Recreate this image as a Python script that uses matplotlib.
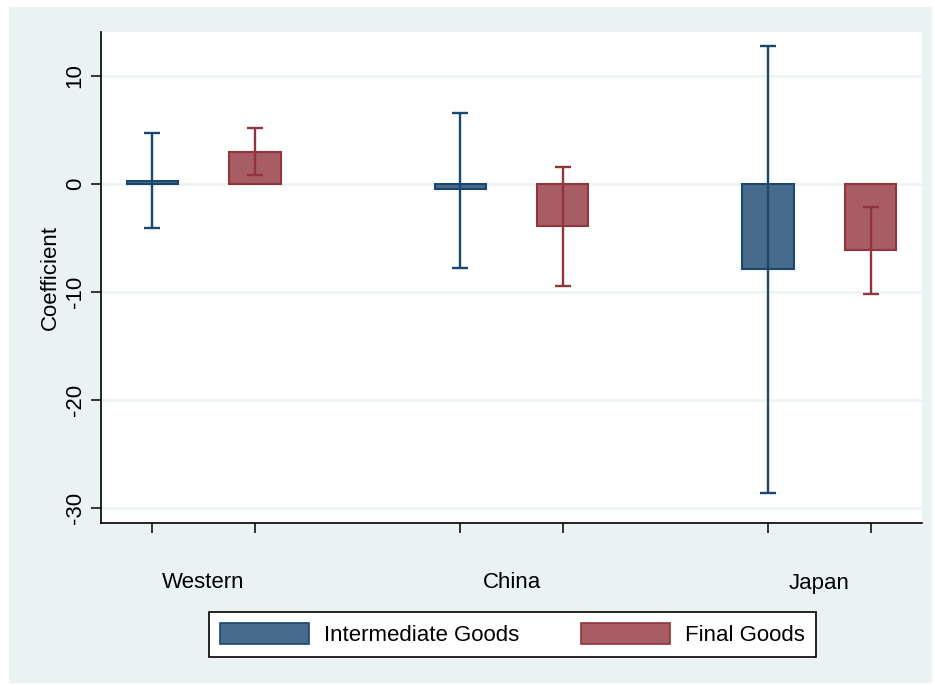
import matplotlib
matplotlib.use("Agg")
import matplotlib.pyplot as plt
from matplotlib.patches import Rectangle, Patch
from matplotlib.transforms import blended_transform_factory
import numpy as np

plt.rcParams['font.family'] = ['Liberation Sans', 'DejaVu Sans']

groups = ["Western", "China", "Japan"]
series = ["Intermediate Goods", "Final Goods"]
inter_coef = [0.3, -0.5, -7.9]
inter_low = [-4.05, -7.75, -28.6]
inter_high = [4.7, 6.6, 12.8]
final_coef = [2.95, -3.9, -6.1]
final_low = [0.8, -9.45, -10.2]
final_high = [5.2, 1.6, -2.15]
yticks = [-30, -20, -10, 0, 10]

fill_colors = ["#486a8b", "#a75d63"]
edge_colors = ["#1a476f", "#90353b"]
bg = "#eaf2f3"
FS = 16

fig = plt.figure(figsize=(9.35, 6.85), dpi=100)
fig.patch.set_facecolor("white")
fig.add_artist(Rectangle((9/935, 2/685), (932-9)/935, (678-2)/685,
                         transform=fig.transFigure, facecolor=bg,
                         edgecolor="none", zorder=-10))

ax = fig.add_axes([101/935, 1-523/685, (922-101)/935, (523-32)/685])
ax.set_facecolor("white")

pos_inter = np.array([1, 4, 7])
pos_final = pos_inter + 1

data = [(inter_coef, inter_low, inter_high), (final_coef, final_low, final_high)]
for i, (pos, (c, lo, hi)) in enumerate(zip([pos_inter, pos_final], data)):
    c = np.array(c); lo = np.array(lo); hi = np.array(hi)
    ax.bar(pos, c, width=0.5, color=fill_colors[i], edgecolor=edge_colors[i],
           linewidth=1.5, zorder=3)
    ax.errorbar(pos, c, yerr=[c - lo, hi - c], fmt="none",
                ecolor=edge_colors[i], elinewidth=1.7, capsize=5.5,
                capthick=1.7, zorder=4)

ax.set_xlim(0.5, 8.5)
ax.set_ylim(-31.4, 14.07)
ax.set_yticks(yticks)
ax.set_yticklabels([str(t) for t in yticks], rotation=90, va="center", fontsize=FS)
ax.set_xticks(list(pos_inter) + list(pos_final))
ax.set_xticklabels([""] * 6)
ax.tick_params(axis="both", length=7, width=1.1, color="black")
ax.tick_params(axis="y", pad=4)
ax.grid(axis="y", color=bg, linewidth=1.8, zorder=0)
ax.set_axisbelow(True)
for s in ["top", "right"]:
    ax.spines[s].set_visible(False)
for s in ["left", "bottom"]:
    ax.spines[s].set_linewidth(1.2)
    ax.spines[s].set_color("black")

ax.set_ylabel("Coefficient", fontsize=FS, labelpad=3)

trans = blended_transform_factory(ax.transData, fig.transFigure)
for g, p in zip(groups, pos_inter + 0.5):
    ax.text(p, 1 - 583/685, g, transform=trans, ha="center", va="center",
            fontsize=FS)

handles = [Patch(facecolor=fill_colors[i], edgecolor=edge_colors[i], linewidth=1.2)
           for i in range(2)]
leg = fig.legend(handles, series, loc="center", ncol=2,
                 bbox_to_anchor=(512.5/935, 1 - 634.5/685), fontsize=FS,
                 frameon=True, fancybox=False, edgecolor="black", framealpha=1,
                 handlelength=4.0, handleheight=1.05, handletextpad=0.68,
                 columnspacing=2.75, borderpad=0.5)
leg.get_frame().set_linewidth(1.2)
leg.get_frame().set_facecolor("white")

fig.savefig("out.png", dpi=100, facecolor=fig.get_facecolor())
